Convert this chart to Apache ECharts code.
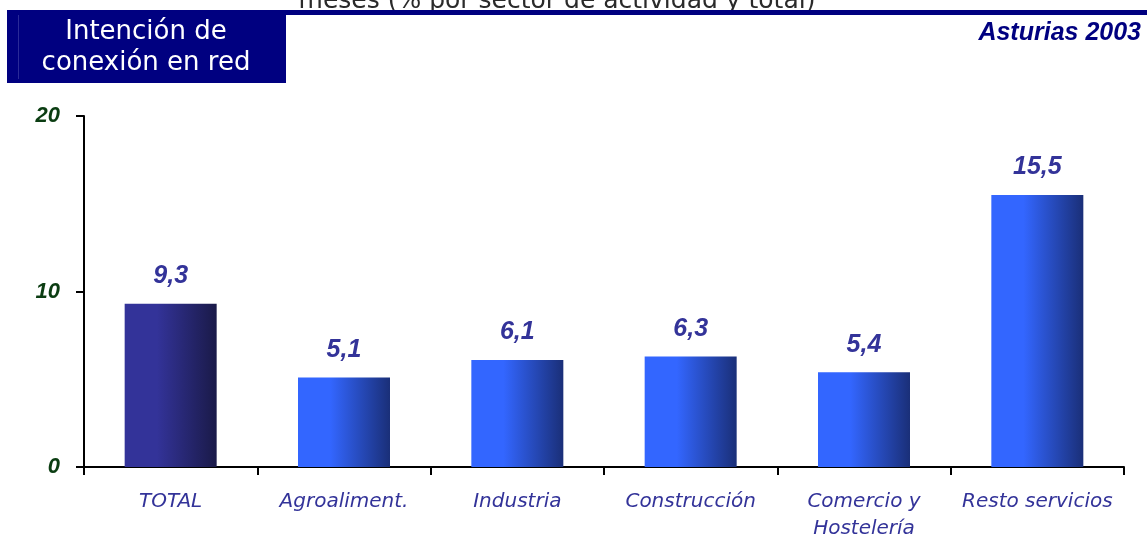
<!DOCTYPE html>
<html>
<head>
<meta charset="utf-8">
<script src="https://cdn.jsdelivr.net/npm/echarts@6/dist/echarts.min.js"></script>
<style>
  html, body { margin: 0; padding: 0; background: #fff; }
  #chart { width: 1147px; height: 539px; }
</style>
</head>
<body>
<div id="chart"></div>
<script>
// datos
const categories = ['TOTAL', 'Agroaliment.', 'Industria', 'Construcción', 'Comercio y\nHostelería', 'Resto servicios']
const values = [9.3, 5.1, 6.1, 6.3, 5.4, 15.5]
const yTicks = [0, 10, 20]

const dejavu = '"DejaVu Sans", Verdana, sans-serif'
const arial = '"Liberation Sans", Arial, sans-serif'

function grad(c1, c2) {
  return new echarts.graphic.LinearGradient(0, 0, 1, 0, [
    { offset: 0, color: c1 },
    { offset: 0.35, color: c1 },
    { offset: 1, color: c2 }
  ])
}

const chart = echarts.init(document.getElementById('chart'))
chart.setOption({
  animation: false,
  grid: { left: 84, right: 23, top: 116, bottom: 72, outerBoundsMode: 'none' },
  graphic: [
    {
      type: 'text', x: 557, y: 1,
      style: {
        text: 'meses (% por sector de actividad y total)', font: '25px ' + dejavu,
        fill: '#2a2a2a', align: 'center', verticalAlign: 'middle'
      }
    },
    { type: 'rect', shape: { x: 286, y: 10, width: 861, height: 5 }, style: { fill: '#000080' } },
    { type: 'rect', shape: { x: 7, y: 10, width: 279, height: 73 }, style: { fill: '#000080' } },
    { type: 'rect', shape: { x: 18, y: 15, width: 1, height: 64 }, style: { fill: '#2a2a98' } },
    {
      type: 'text', x: 146, y: 48,
      style: {
        text: 'Intención de\nconexión en red', font: '26px ' + dejavu,
        fill: '#fff', align: 'center', verticalAlign: 'middle', lineHeight: 31
      }
    },
    {
      type: 'text', x: 1141, y: 33,
      style: {
        text: 'Asturias 2003', font: 'italic bold 25px ' + arial,
        fill: '#000080', align: 'right', verticalAlign: 'middle'
      }
    }
  ],
  xAxis: {
    type: 'category',
    data: categories,
    axisLine: { lineStyle: { color: '#000', width: 2 } },
    axisTick: { show: true, length: 8, lineStyle: { color: '#000', width: 2 } },
    axisLabel: {
      color: '#333399', fontSize: 20, fontStyle: 'italic', fontFamily: dejavu,
      margin: 21, lineHeight: 27, interval: 0
    }
  },
  yAxis: {
    type: 'value',
    min: yTicks[0], max: yTicks[yTicks.length - 1], interval: 10,
    splitLine: { show: false },
    axisLine: { show: true, lineStyle: { color: '#000', width: 2 } },
    axisTick: { show: true, length: 8, lineStyle: { color: '#000', width: 2 } },
    axisLabel: {
      color: '#0b3d12', fontSize: 22, fontStyle: 'italic', fontWeight: 'bold', fontFamily: arial,
      margin: 24
    }
  },
  series: [{
    type: 'bar',
    barWidth: 92,
    data: values.map((v, i) => ({
      value: v,
      itemStyle: { color: i === 0 ? grad('#333399', '#1a1a48') : grad('#3366ff', '#1a2f78') }
    })),
    label: {
      show: true, position: 'top', distance: 15,
      color: '#333399', fontSize: 25, fontStyle: 'italic', fontWeight: 'bold', fontFamily: arial,
      formatter: p => String(p.value).replace('.', ',')
    }
  }]
})
</script>
</body>
</html>
